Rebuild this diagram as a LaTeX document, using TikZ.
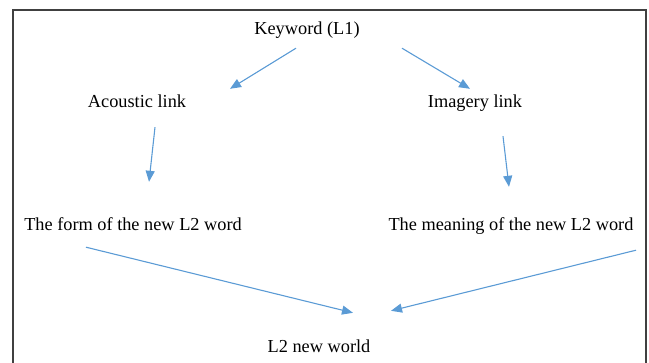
\documentclass[tikz,border=0pt]{standalone}
\usepackage{fontspec}
\setmainfont{Liberation Serif}
\usetikzlibrary{positioning,arrows.meta}
\definecolor{linkblue}{HTML}{5B9BD5}
\tikzset{
    term/.style = {
        font=\fontsize{18.3}{22}\selectfont,
        inner sep=0pt,
        text height=12pt,
        text depth=4pt,
        },
    link/.style = {
        draw=linkblue,
        line width=1.1pt,
        -{Triangle[length=11pt,width=9pt]},
        },
    frame/.style = {
        draw=black!75,
        line width=1.5pt,
        },
}

\begin{document}
\begin{tikzpicture}[on grid]
            \useasboundingbox (0,0) rectangle (649pt,-363pt);
            \draw[frame] (13pt,-370pt) -- (13pt,-10pt) -- (646pt,-10pt) -- (646pt,-370pt);

            \node[term] (key) at (307pt,-31pt) {Keyword (L1)};
            \node[term, below left=73pt and 170pt of key] (acoustic) {Acoustic link};
            \node[term, below right=73pt and 168pt of key] (imagery) {Imagery link};
            \node[term, below left=123pt and 4pt of acoustic] (form) {The form of the new L2 word};
            \node[term, below right=123pt and 36pt of imagery] (meaning) {The meaning of the new L2 word};
            \node[term, below right=318pt and 12pt of key] (world) {L2 new world};

            \draw[link] ([shift={(-11pt,-9pt)}]key.south) -- ([shift={(93pt,7pt)}]acoustic.north);
            \draw[link] ([shift={(95pt,-9pt)}]key.south) -- ([shift={(-5pt,7pt)}]imagery.north);
            \draw[link] ([shift={(18pt,-15pt)}]acoustic.south) -- ([shift={(16pt,37pt)}]form.north);
            \draw[link] ([shift={(28pt,-24pt)}]imagery.south) -- ([shift={(-2pt,32pt)}]meaning.north);
            \draw[link] ([shift={(-47pt,-12pt)}]form.south) -- ([shift={(34pt,28pt)}]world.north);
            \draw[link] ([shift={(125pt,-15pt)}]meaning.south) -- ([shift={(72pt,30pt)}]world.north);
        \end{tikzpicture}
\end{document}
